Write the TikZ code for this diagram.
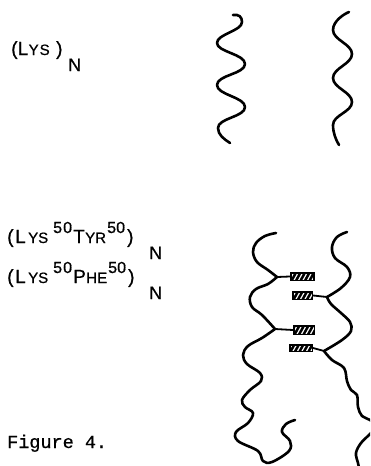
\documentclass[tikz,border=0pt]{standalone}
\usepackage{fontspec}
\setmainfont[FakeBold=0.8]{Liberation Sans}
\newfontfamily\typewriter[FakeBold=0.6]{Liberation Mono}
\usetikzlibrary{calc}

% letter cells: each glyph sits in a cell of fixed width
\newcommand\cw[2]{\makebox[#1pt][l]{\fontsize{19}{19}\selectfont #2}}
\newcommand\sw[2]{\makebox[#1pt][l]{\fontsize{15}{15}\selectfont #2}}
\newcommand\dw[2]{\makebox[#1pt][l]{\raisebox{10pt}[0pt][0pt]{\fontsize{16}{16}\selectfont #2}}}

\tikzset{
  chain/.style={line width=2.6pt, line cap=round, line join=round},
  link/.style={line width=1.8pt},
  formula/.style={inner sep=0pt, anchor=base west},
  index/.style={inner sep=0pt, anchor=base west, font=\fontsize{18}{18}\selectfont},
  hatchbox/.style={draw, line width=1.6pt, minimum width=23pt, minimum height=7.5pt,
    inner sep=0pt, fill=white,
    path picture={
      \foreach \k in {-8,-3.5,...,26}
        \draw[line width=2.5pt] ($(path picture bounding box.south west)+(\k,0)$) -- ++(6,-11);
    }},
}

\begin{document}
\begin{tikzpicture}[x=1pt,y=-1pt]
\useasboundingbox (0,0) rectangle (370,466);

% formulas and their subscripts
\node[formula] (lys) at (11,55) {\cw{6.5}{(}\cw{11}{L}\sw{11}{Y}\sw{16.5}{S}\cw{11}{)}};
\node[index] (lysN) at (68,71) {N};
\node[formula] (lystyr) at (7,243) {\cw{8}{(}\cw{13}{L}\sw{10}{Y}\sw{15}{S}\dw{10}{5}\dw{10}{0}\cw{12}{T}\sw{10}{Y}\sw{12}{R}\dw{9}{5}\dw{11}{0}\cw{10}{)}};
\node[index] (lystyrN) at (149,259) {N};
\node[formula] (lysphe) at (7,283) {\cw{8}{(}\cw{13}{L}\sw{10}{Y}\sw{15}{S}\dw{10}{5}\dw{10}{0}\cw{13}{P}\sw{11}{H}\sw{11}{E}\dw{9}{5}\dw{11}{0}\cw{10}{)}};
\node[index] (lyspheN) at (149,299) {N};
\node[formula] (caption) at (7,448) {\typewriter\fontsize{18.5}{18.5}\selectfont Figure 4.};

% free polylysine chains
\draw[chain] (233,15) .. controls (239,14) and (242,17) .. (242,22)
  .. controls (242,31) and (217,34) .. (217,43)
  .. controls (217,52) and (245,54) .. (245,64)
  .. controls (245,74) and (217,75) .. (217,85)
  .. controls (217,95) and (245,97) .. (245,107)
  .. controls (245,117) and (218,118) .. (218,128)
  .. controls (218,135) and (224,139) .. (230,143);
\draw[chain] (349,12) .. controls (344,14) and (333,21) .. (333,30)
  .. controls (333,40) and (352,44) .. (352,54)
  .. controls (352,64) and (333,68) .. (333,78)
  .. controls (333,88) and (352,92) .. (352,102)
  .. controls (352,112) and (333,115) .. (333,125)
  .. controls (333,133) and (336,140) .. (339,145);

% copolymer chains with aromatic side groups
\coordinate (la) at (277,277);
\coordinate (lb) at (275,329);
\coordinate (ra) at (327,297);
\coordinate (rb) at (324,351);

\begin{scope}
\clip (0,0) rectangle (370,466);
\draw[chain] plot[smooth, tension=0.6] coordinates {(276,233) (265,236) (256,243) (253,252) (257,262) (268,270) (277,277)};
\draw[chain] plot[smooth, tension=0.6] coordinates {(277,277) (268,284) (256,289) (250,297) (252,307) (262,315) (275,329)};
\draw[chain] plot[smooth, tension=0.6] coordinates {(275,329) (262,338) (248,346) (243,355) (247,364) (260,373) (261,381) (250,390) (242,400) (245,407) (253,413) (248,423) (236,432) (238,441) (258,451) (263,461) (272,462) (289,451) (290,441) (282,432) (286,424) (295,420)};
\draw[chain] plot[smooth, tension=0.6] coordinates {(347,232) (337,237) (332,247) (335,258) (347,267) (350,277) (341,288) (327,297)};
\draw[chain] plot[smooth, tension=0.6] coordinates {(327,297) (331,304) (341,313) (350,322) (351,331) (342,340) (324,351)};
\draw[chain] plot[smooth, tension=0.6] coordinates {(324,351) (332,360) (344,368) (347,381) (351,390) (357,395) (358,407) (362,416) (370,420) (376,427) (370,434) (361,443) (356,453) (358,463) (360,472)};
\end{scope}

\node[hatchbox, minimum width=23.5pt, minimum height=7.6pt] (b1) at (302.5,276.5) {};
\node[hatchbox, minimum width=19.6pt, minimum height=7.6pt] (b2) at (302.5,295.5) {};
\node[hatchbox, minimum width=20.6pt, minimum height=8.6pt] (b3) at (304,330) {};
\node[hatchbox, minimum width=22.6pt, minimum height=6.6pt] (b4) at (301,348) {};

\draw[link] (la) -- (b1.west);
\draw[link] (ra) -- (b2.east);
\draw[link] (lb) -- (b3.west);
\draw[link] (rb) -- (b4.east);
\end{tikzpicture}
\end{document}
